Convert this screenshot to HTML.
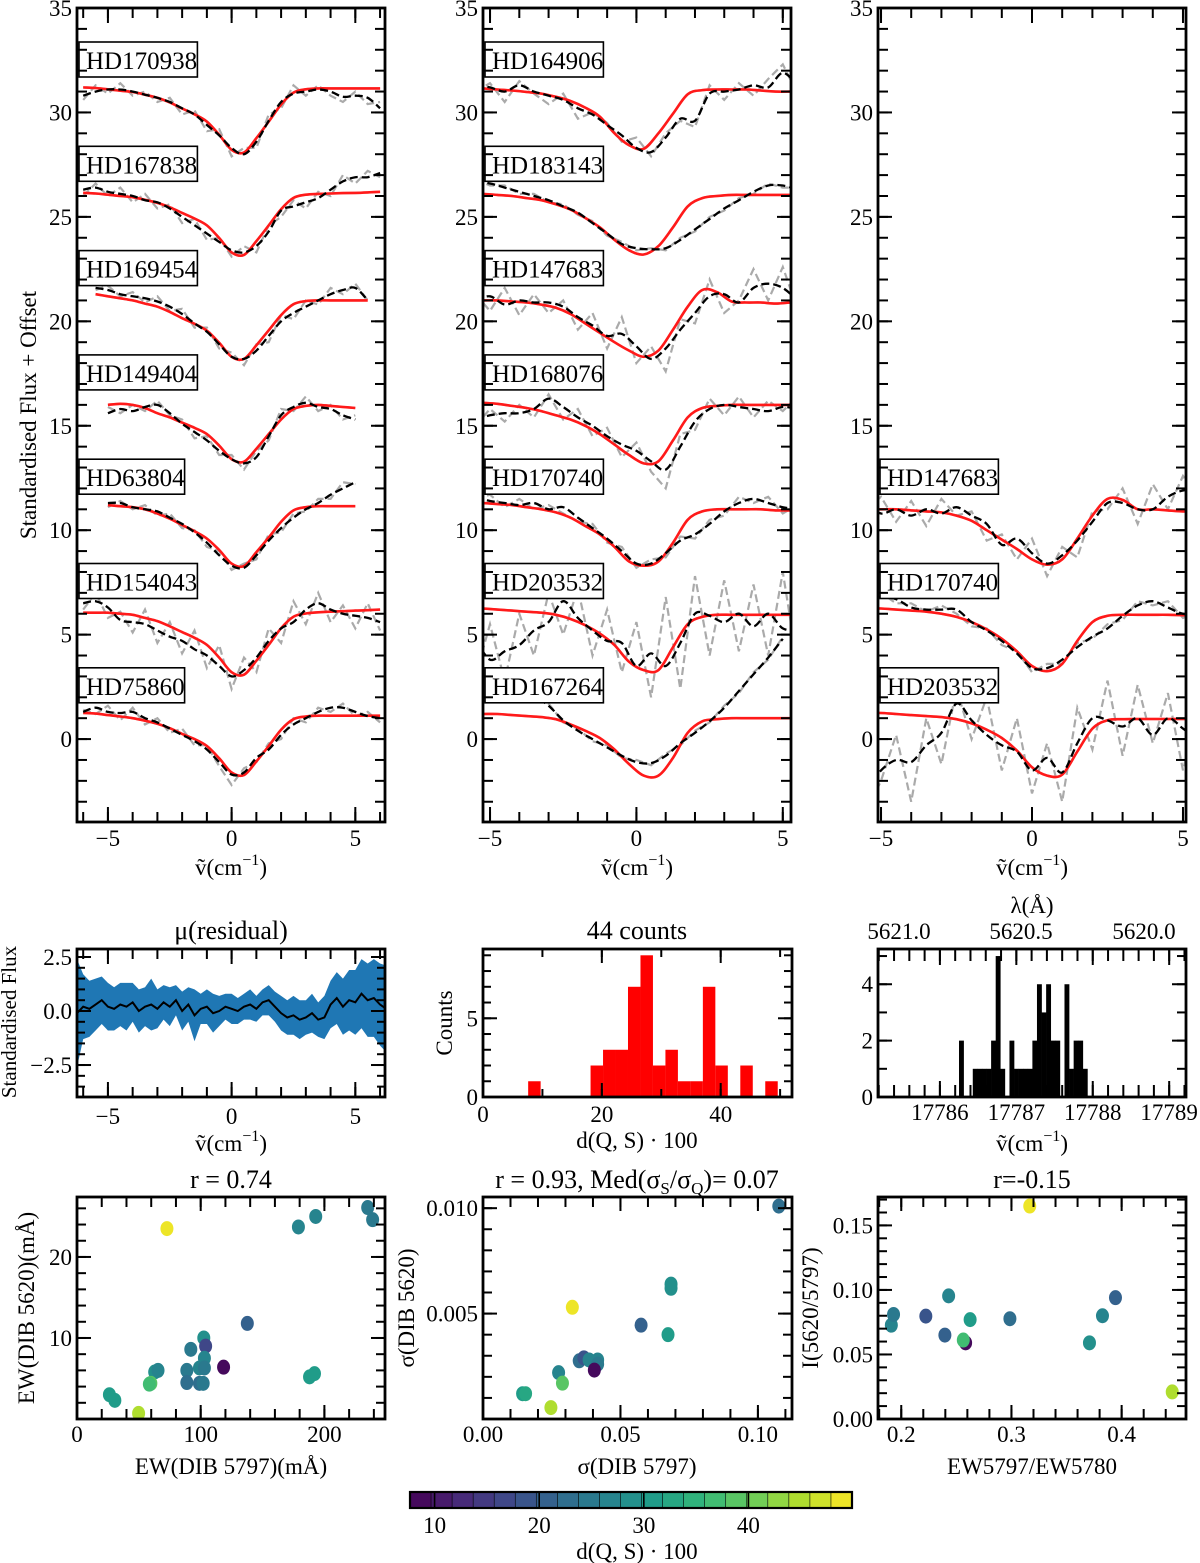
<!DOCTYPE html>
<html><head><meta charset="utf-8">
<style>
html,body{margin:0;padding:0;background:#fff;}
svg{display:block;font-family:"Liberation Serif",serif;}
</style></head>
<body>
<svg id="fig" width="1200" height="1563" viewBox="0 0 1200 1563" xmlns="http://www.w3.org/2000/svg">
<defs id="defs"></defs>
</svg>
<script>
// ===== spectra data (x grid step 0.5) =====
// left column
const red_HD170938=[31.2,31.17,31.11,31.04,30.98,30.85,30.7,30.48,30.19,29.91,29.56,28.93,28.21,28.08,28.77,29.56,30.38,30.95,31.11,31.15,31.15,31.15,31.15,31.15,31.15];
const blk_HD170938=[30.8,31.0,31.1,31.1,31.0,30.85,30.7,30.5,30.2,29.9,29.4,28.9,28.3,28.0,28.6,29.6,30.5,30.9,31.0,31.1,31.0,30.75,30.8,30.7,30.2];
const gry_HD170938=[30.6,31.3,30.9,31.4,30.8,31.0,30.5,30.7,29.9,30.1,29.1,29.2,27.9,28.3,28.3,29.9,30.2,31.3,30.8,31.3,30.8,30.5,31.0,30.4,30.5];
const red_HD167838=[26.15,26.12,26.06,26.0,25.94,25.82,25.67,25.46,25.19,24.92,24.59,23.99,23.3,23.18,23.84,24.59,25.37,25.91,26.06,26.1,26.12,26.14,26.15,26.17,26.2];
const blk_HD167838=[26.3,26.4,26.2,26.1,26.0,25.8,25.7,25.4,25.0,24.6,24.2,23.8,23.4,23.3,23.6,24.3,25.3,25.5,25.7,25.9,26.3,26.7,26.9,26.9,27.1];
const gry_HD167838=[26.0,26.6,26.0,26.4,25.7,26.1,25.4,25.6,24.7,24.9,23.9,24.0,23.1,23.6,23.3,24.6,25.0,25.8,25.4,26.2,26.0,27.0,26.6,27.2,26.9];
const red_HD169454=[21.3,21.2,21.1,21.0,20.85,20.7,20.45,20.15,19.88,19.55,18.97,18.3,18.2,18.85,19.57,20.3,20.82,20.97,21.0,21.0,21.0,21.0,21.0];
const blk_HD169454=[21.6,21.5,21.3,21.2,21.1,20.95,20.7,20.35,19.9,19.5,18.9,18.3,18.2,18.6,19.3,20.0,20.4,20.7,21.0,21.3,21.5,21.6,21.0];
const gry_HD169454=[21.5,21.7,21.2,21.4,20.9,21.2,20.5,20.6,19.7,19.7,18.7,18.5,17.9,18.9,19.0,20.3,20.1,21.0,20.8,21.6,21.3,21.8,21.0];
const red_HD149404=[16.0,16.05,16.0,15.85,15.6,15.4,15.15,14.9,14.6,14.05,13.4,13.28,13.9,14.6,15.3,15.8,15.95,16.0,15.95,15.9,15.85];
const blk_HD149404=[15.6,15.8,15.7,15.9,16.0,15.6,15.1,14.7,14.3,13.8,13.4,13.2,13.5,14.5,15.5,15.9,16.1,15.9,15.8,15.5,15.3];
const gry_HD149404=[15.9,15.6,16.0,15.7,16.2,15.5,15.3,14.4,14.5,13.6,13.6,12.9,13.8,14.3,15.8,15.7,16.4,15.7,16.0,15.3,15.5];
const red_HD63804=[11.2,11.15,11.1,11.0,10.8,10.55,10.25,9.95,9.6,9.05,8.4,8.28,8.95,9.65,10.4,10.95,11.1,11.15,11.15,11.15,11.15];
const blk_HD63804=[11.3,11.3,11.1,11.0,10.9,10.6,10.3,9.9,9.4,8.8,8.3,8.2,8.8,9.5,10.1,10.6,11.0,11.3,11.7,12.0,12.3];
const gry_HD63804=[11.1,11.4,11.0,11.2,10.7,10.8,10.1,10.0,9.2,9.0,8.1,8.4,8.6,9.8,9.9,10.8,10.9,11.5,11.5,12.3,12.2];
const red_HD154043=[6.05,6.05,6.05,6.0,5.95,5.8,5.65,5.4,5.12,4.85,4.51,3.9,3.2,3.08,3.75,4.51,5.31,5.86,6.01,6.07,6.1,6.12,6.15,6.17,6.2];
const blk_HD154043=[6.5,6.6,6.3,5.7,5.6,5.5,5.2,4.9,4.7,4.3,4.0,3.5,3.0,3.3,3.9,4.7,5.3,5.6,6.2,6.5,6.2,6.0,5.9,5.8,5.6];
const gry_HD154043=[6.2,7.0,5.8,6.1,5.1,6.2,4.6,5.6,4.1,5.2,3.4,4.5,2.4,3.9,3.2,5.3,4.6,6.6,5.5,7.0,5.6,6.4,5.3,6.5,5.2];
const red_HD75860=[1.25,1.22,1.15,1.08,1.0,0.88,0.73,0.52,0.25,0.0,-0.33,-0.92,-1.6,-1.72,-1.07,-0.33,0.45,0.95,1.08,1.12,1.12,1.12,1.12,1.12,1.12];
const blk_HD75860=[1.3,1.5,1.3,1.25,1.3,1.0,0.8,0.5,0.2,-0.1,-0.5,-1.1,-1.7,-1.6,-0.9,-0.5,0.2,0.7,1.0,1.3,1.5,1.5,1.3,1.1,1.0];
const gry_HD75860=[1.4,1.2,1.6,0.9,1.5,0.7,1.0,0.3,0.5,-0.3,-0.3,-1.3,-2.2,-1.4,-1.1,-0.2,0.0,1.0,0.8,1.5,1.3,1.7,1.1,1.3,0.8];
// middle column (x from -5.5)
const red_m_HD164906=[31.2,31.15,31.1,31.05,30.98,30.9,30.75,30.55,30.23,29.8,29.0,28.43,28.26,29.0,29.94,30.87,31.07,31.1,31.1,31.1,31.05,31.0,31.0];
const blk_m_HD164906=[31.3,31.2,31.0,31.3,31.0,30.8,30.6,30.2,29.9,29.4,28.9,28.3,28.1,28.8,29.7,29.6,30.9,31.0,31.1,31.3,31.2,31.9,31.3];
const gry_m_HD164906=[31.0,31.4,30.5,31.5,30.9,30.4,30.9,29.7,30.0,29.5,28.6,28.8,27.9,29.0,29.6,29.3,31.3,30.6,31.4,30.8,31.6,32.3,30.9];
const red_m_HD183143=[26.1,26.1,26.05,26.0,25.9,25.8,25.6,25.35,24.95,24.5,23.9,23.4,23.2,23.6,24.5,25.5,25.9,26.0,26.05,26.05,26.05,26.05,26.05];
const blk_m_HD183143=[26.7,26.6,26.4,26.2,26.0,25.8,25.5,25.2,24.7,24.2,23.7,23.5,23.45,23.5,23.9,24.4,24.9,25.4,25.8,26.2,26.5,26.5,26.3];
const gry_m_HD183143=[26.8,26.5,26.5,26.1,26.1,25.7,25.6,25.1,24.8,24.1,23.8,23.4,23.5,23.4,24.0,24.3,25.0,25.3,25.9,26.1,26.6,26.4,26.4];
const red_m_HD147683=[21.0,21.0,21.0,20.95,20.9,20.8,20.65,20.35,19.9,19.45,19.0,18.6,18.3,18.6,19.6,20.7,21.5,21.4,20.95,20.9,20.9,20.85,20.9];
const blk_m_HD147683=[21.0,21.2,20.8,21.0,20.9,20.9,20.7,20.2,19.8,19.3,19.4,18.8,18.2,18.7,19.6,20.4,21.2,21.3,20.9,21.6,21.8,21.6,21.0];
const gry_m_HD147683=[21.3,20.5,21.6,20.3,21.3,20.4,21.0,19.6,20.4,18.7,20.2,18.0,18.8,17.6,20.1,19.9,22.0,20.4,21.0,22.5,21.0,22.6,20.6];
const red_m_HD168076=[16.15,16.1,16.05,15.95,15.85,15.7,15.5,15.3,15.0,14.6,14.1,13.6,13.2,13.3,14.3,15.4,15.85,15.95,16.0,16.0,16.0,16.0,16.0];
const blk_m_HD168076=[15.3,15.5,15.6,15.6,15.8,16.3,15.9,15.4,15.0,14.5,14.1,13.8,13.3,12.9,14.0,15.2,15.8,16.0,15.9,15.8,15.7,15.9,15.8];
const gry_m_HD168076=[15.0,15.8,15.2,16.0,15.4,16.5,15.3,15.8,14.5,14.9,13.5,14.2,12.8,12.0,14.6,14.8,16.3,15.5,16.4,15.4,16.2,15.7,16.4];
const red_m_HD170740=[11.3,11.3,11.25,11.2,11.1,11.0,10.85,10.6,10.2,9.8,9.2,8.5,8.3,8.5,9.4,10.5,10.9,11.0,11.0,11.0,11.0,10.95,10.95];
const blk_m_HD170740=[11.6,11.4,11.3,11.2,11.3,11.0,11.1,10.6,10.1,9.6,9.0,8.4,8.4,8.9,9.5,9.8,10.3,10.9,11.3,11.5,11.3,11.1,11.0];
const gry_m_HD170740=[11.5,11.7,11.1,11.5,11.0,11.2,10.8,10.4,10.3,9.4,9.2,8.2,8.6,8.7,9.7,9.6,10.5,10.7,11.6,11.3,11.6,10.8,11.2];
const red_m_HD203532=[6.25,6.25,6.2,6.15,6.1,6.05,5.95,5.75,5.45,5.05,4.5,3.7,3.3,3.3,4.4,5.5,5.85,5.95,5.95,5.95,5.95,5.95,5.95];
const blk_m_HD203532=[4.8,3.8,4.2,4.5,5.2,5.6,6.6,5.8,5.2,4.7,4.6,3.5,4.1,3.5,4.6,6.0,5.9,5.6,6.0,5.4,6.0,5.3,5.2];
const gry_m_HD203532=[3.0,5.5,2.8,6.0,4.0,7.0,5.0,7.2,4.0,6.2,3.2,5.6,2.0,6.8,2.4,7.8,4.0,7.6,4.2,7.4,4.0,8.0,3.6];
const red_m_HD167264=[1.2,1.2,1.2,1.15,1.1,1.05,0.95,0.7,0.4,0.05,-0.5,-1.2,-1.75,-1.75,-0.9,0.3,0.85,0.95,1.0,1.0,1.0,1.0,1.0];
const blk_m_HD167264=[2.6,2.1,1.6,0.9,0.4,0.0,-0.4,-0.8,-1.1,-1.15,-0.8,-0.2,0.3,0.85,1.5,2.3,3.1,3.9,4.8];
const gry_m_HD167264=[2.7,2.0,1.7,0.8,0.5,-0.1,-0.3,-0.9,-1.0,-1.25,-0.7,-0.3,0.4,0.8,1.6,2.2,3.2,3.8,4.9];
// right column (x from -5.5)
const red_r_HD147683=[11.0,11.0,11.0,10.95,10.9,10.85,10.7,10.45,10.0,9.55,9.1,8.6,8.35,8.6,9.6,10.7,11.5,11.45,11.0,11.0,10.95,10.9,10.95];
const blk_r_HD147683=[11.3,10.8,11.0,10.7,11.0,10.8,11.1,10.7,10.3,9.3,9.6,8.9,8.4,8.8,9.5,10.4,11.3,11.3,11.0,11.0,11.6,11.9,11.9];
const gry_r_HD147683=[11.0,11.6,10.4,11.4,10.2,11.5,10.7,10.9,9.5,9.8,8.6,9.6,7.8,9.2,8.7,10.9,11.0,12.0,10.3,12.2,11.0,12.6,11.6];
const red_r_HD170740=[6.25,6.25,6.2,6.15,6.1,6.0,5.85,5.6,5.25,4.8,4.2,3.5,3.25,3.6,4.7,5.6,5.9,5.95,5.95,5.95,5.95,5.93,5.93];
const blk_r_HD170740=[6.9,6.8,6.7,6.3,6.2,6.2,6.2,5.6,5.2,4.7,4.1,3.4,3.4,3.8,4.4,4.9,5.3,5.9,6.4,6.6,6.3,6.0,6.0];
const gry_r_HD170740=[6.7,7.0,6.5,6.5,6.1,6.4,6.0,5.4,5.3,4.5,4.2,3.2,3.6,3.6,4.6,4.8,5.5,5.7,6.6,6.4,6.6,5.8,6.1];
const red_r_HD203532=[1.25,1.25,1.2,1.15,1.1,1.05,0.95,0.75,0.45,0.05,-0.55,-1.35,-1.75,-1.7,-0.6,0.5,0.9,0.95,0.96,0.96,0.96,0.96,0.96];
const blk_r_HD203532=[-2.5,-1.5,-1.0,-1.1,-0.3,0.3,1.7,0.9,0.2,-0.3,-0.6,-1.5,-0.9,-1.6,-0.2,1.0,0.9,0.6,1.0,0.2,1.0,0.5,0.0];
const gry_r_HD203532=[-3.5,-2.0,0.2,-3.0,1.0,-1.2,2.4,0.0,2.0,-1.5,1.0,-2.6,-0.2,-3.0,1.5,-0.5,2.8,-0.8,2.6,-0.2,2.2,-1.5,1.5];

// residual (x from -6.25 step 0.25)
const residMean=[-0.1,0.2,0.1,0.3,0.5,0.2,0.1,0.3,0.2,0.4,0.0,0.2,0.3,0.1,0.4,0.2,0.5,0.0,0.3,-0.2,0.1,0.2,-0.1,0.0,0.2,0.1,0.0,0.2,0.3,0.1,0.4,0.5,0.2,-0.1,-0.3,-0.2,-0.4,-0.3,-0.1,-0.4,-0.3,0.3,0.6,0.2,0.5,0.4,0.8,0.5,0.6,0.3,0.1];
const residStd=[2.5,1.5,1.3,1.2,1.1,1.1,1.0,1.0,1.1,0.9,1.0,0.9,1.2,0.9,0.8,0.9,0.7,0.9,0.8,1.2,0.7,0.8,0.9,0.7,0.6,0.7,0.6,0.6,0.7,0.6,0.6,0.7,0.7,0.8,0.8,0.9,0.9,0.8,0.9,0.8,1.0,1.1,1.2,1.3,1.4,1.5,1.6,1.7,1.8,1.9,2.0];
// histogram d(Q,S) (bins from 7.6, width 2.1)
const distCounts=[1,0,0,0,0,2,3,3,7,9,2,3,1,1,7,2,0,2,0,1];
// histogram wavenumber (bins from 17786.25, width 0.06)
const waveCounts=[2,0,0,1,1,1,1,2,5,1,0,2,1,1,1,1,2,4,3,4,2,2,0,4,1,2,2,1];
// scatter 1
const ew5797=[72.7,179,193,235,239,137.7,118.5,102.5,104,92,103,99,103,88.8,62.8,65.5,59.7,58.5,88.8,99,102,188,192,26.2,30.6,49.8];
const ew5620=[23.5,23.7,25,26.1,24.6,11.8,6.4,10,9,8.6,7.5,6.3,6.3,6,5.8,6,4.4,4.3,4.5,4.4,4.4,5.2,5.6,3,2.3,0.7];
const dist1=[49,26,26,24,24,20,8,28,17,24,26,27,25,24,28,26,38,36,22,23,24,31,30,31,30,44];
// scatter 2
const sig5797=[0.1076,0.0684,0.0684,0.0325,0.0575,0.0673,0.035,0.0367,0.0386,0.0417,0.0417,0.0405,0.0275,0.0289,0.0144,0.0155,0.0247];
const sig5620=[0.0101,0.0064,0.0062,0.0053,0.00445,0.004,0.00276,0.0029,0.0028,0.0028,0.0026,0.00232,0.0022,0.0017,0.0012,0.0012,0.00054];
const dist2=[23,29,28,49,20,31,22,18,26,27,25,8,26,38,31,32,44];
// scatter 3
const ratioEW=[0.3166,0.191,0.193,0.2223,0.243,0.2396,0.2584,0.2563,0.2625,0.2986,0.3708,0.3826,0.3944,0.4459];
const intRatio=[0.165,0.0727,0.081,0.0797,0.0954,0.065,0.059,0.0612,0.077,0.0777,0.059,0.080,0.094,0.021];
const dist3=[49,26,25,19,26,21,8,37,30,22,29,26,21,44];

// ===== helpers =====
const NS="http://www.w3.org/2000/svg";
const svg=document.getElementById('fig');
const defs=document.getElementById('defs');
const TF=23;
function el(tag,attrs,parent){const e=document.createElementNS(NS,tag);for(const k in attrs)e.setAttribute(k,attrs[k]);(parent||svg).appendChild(e);return e;}
function lin(d0,d1,p0,p1){return v=>p0+(v-d0)*(p1-p0)/(d1-d0);}
let clipN=0;
function makePanel(name,x0,x1,y0,y1,xd,yd){
  const p={x0,x1,y0,y1,sx:lin(xd[0],xd[1],x0,x1),sy:lin(yd[0],yd[1],y1,y0),xd,yd};
  const g=el('g',{});
  
  
  const cid='clip'+(clipN++);
  const cp=el('clipPath',{id:cid},defs);
  el('rect',{x:x0,y:y0,width:x1-x0,height:y1-y0},cp);
  p.g=g;p.plot=el('g',{'clip-path':'url(#'+cid+')'},g);
  
  
  return p;
}
function frame(p){
  const r=el('rect',{x:p.x0,y:p.y0,width:p.x1-p.x0,height:p.y1-p.y0,fill:'none',stroke:'#000','stroke-width':2.8},p.g);
  
  
}
function inX(p,v){const a=Math.min(p.xd[0],p.xd[1]),b=Math.max(p.xd[0],p.xd[1]);return v>=a-1e-9&&v<=b+1e-9;}
function inY(p,v){return v>=p.yd[0]-1e-9&&v<=p.yd[1]+1e-9;}
function xticks(p,vals,len,labels,fs,ly){
  const g=el('g',{stroke:'#000','stroke-width':2},p.g);
  vals.forEach(v=>{if(!inX(p,v))return;const x=p.sx(v);el('line',{x1:x,x2:x,y1:p.y1,y2:p.y1-len},g);el('line',{x1:x,x2:x,y1:p.y0,y2:p.y0+len},g);});
  if(labels){labels.forEach((t,i)=>{const tx=el('text',{x:p.sx(vals[i]),y:ly,'font-size':fs,'text-anchor':'middle',fill:'#000'},p.g);tx.textContent=t;
    
    });}
}
function yticks(p,vals,len,labels,fs,lx){
  const g=el('g',{stroke:'#000','stroke-width':2},p.g);
  vals.forEach(v=>{if(!inY(p,v))return;const y=p.sy(v);el('line',{x1:p.x0,x2:p.x0+len,y1:y,y2:y},g);el('line',{x1:p.x1,x2:p.x1-len,y1:y,y2:y},g);});
  if(labels){labels.forEach((t,i)=>{const tx=el('text',{x:lx,y:p.sy(vals[i])+8,'font-size':fs,'text-anchor':'end',fill:'#000'},p.g);tx.textContent=t;
    
    });}
}
function range(a,b,s){const r=[];for(let v=a;v<=b+1e-9;v+=s)r.push(+v.toFixed(6));return r;}
function text(str,x,y,fs,name,rot,anchor){
  const t=el('text',{x,y,'font-size':fs,'text-anchor':anchor||'middle',fill:'#000'});
  if(rot)t.setAttribute('transform','rotate(-90 '+x+' '+y+')');
  t.setAttribute('xml:space','preserve');
  t.textContent=str;
  
  
  return t;
}
function nuLabel(x,y,fs,name){
  const t=el('text',{x,y,'font-size':fs,'text-anchor':'middle',fill:'#000'});
  
  
  const a=el('tspan',{},t);a.textContent='ṽ(cm';
  const b=el('tspan',{dy:-10,'font-size':fs*0.7},t);b.textContent='−1';
  const c=el('tspan',{dy:10},t);c.textContent=')';
}
function smoothPath(pts){
  let d='M'+pts[0][0]+','+pts[0][1];
  for(let i=0;i<pts.length-1;i++){
    const p0=pts[i-1]||pts[i],p1=pts[i],p2=pts[i+1],p3=pts[i+2]||p2;
    const c1=[p1[0]+(p2[0]-p0[0])/6,p1[1]+(p2[1]-p0[1])/6],c2=[p2[0]-(p3[0]-p1[0])/6,p2[1]-(p3[1]-p1[1])/6];
    d+=' C'+c1[0].toFixed(1)+','+c1[1].toFixed(1)+' '+c2[0].toFixed(1)+','+c2[1].toFixed(1)+' '+p2[0].toFixed(1)+','+p2[1].toFixed(1);
  }
  return d;
}
function curve(p,xs0,vals,style,name,smooth){
  const pts=vals.map((v,i)=>[p.sx(xs0+0.5*i),p.sy(v)]);
  const d=smooth?smoothPath(pts):'M'+pts.map(q=>q[0].toFixed(1)+','+q[1].toFixed(1)).join(' L');
  const e=el('path',Object.assign({d,fill:'none'},style),p.plot);
  
  
}
const RED={stroke:'#ff1a1a','stroke-width':2.6};
const PINK={stroke:'#f7a8a8','stroke-width':2.4};
const BLK={stroke:'#000','stroke-width':2.3,'stroke-dasharray':'8,4'};
const GRY={stroke:'#aaaaaa','stroke-width':2.2,'stroke-dasharray':'8,4'};
function spectrum(p,name,idx,gx0,gry,bx0,blk,rx0,red){
  curve(p,gx0,gry,GRY,name+'-data-raw',false);
  curve(p,rx0,red,PINK,name+'-model-samples',true);
  curve(p,rx0,red,RED,name+'-model',true);
  curve(p,bx0,blk,BLK,name+'-data-smoothed',true);
  const bx=p.x0+2,by=42+idx*104.3,w=name.length*12.8+16;
  const r=el('rect',{x:bx,y:by,width:w,height:35,fill:'#fff',stroke:'#000','stroke-width':1.6},p.g);
  
  
  const t=el('text',{x:bx+7,y:by+27,'font-size':25,fill:'#000'},p.g);t.textContent=name;
  
  
}
function topAxes(p){
  frame(p);
  xticks(p,range(-6,6,1),10);
  xticks(p,[-5,0,5],15,['−5','0','5'],TF,846);
  yticks(p,range(-3,35,1),10);
  yticks(p,range(0,35,5),14,range(0,35,5).map(String),TF,p.x0-5);
  nuLabel((p.x0+p.x1)/2,875,23,'x-axis-title');
}
// viridis
const VIR=[[68,1,84],[72,40,120],[62,73,137],[49,104,142],[38,130,142],[31,158,137],[53,183,121],[109,205,89],[180,222,44],[253,231,37]];
function viridis(t){t=Math.max(0,Math.min(1,t));const s=t*(VIR.length-1),i=Math.min(Math.floor(s),VIR.length-2),f=s-i;const c=VIR[i].map((v,k)=>Math.round(v+(VIR[i+1][k]-v)*f));return 'rgb('+c.join(',')+')';}
const CMIN=7.65,CMAX=49.9,NB=21;
function cmap(v){const b=Math.min(NB-1,Math.max(0,Math.floor((v-CMIN)/(CMAX-CMIN)*NB)));return viridis((b+0.5)/NB);}

// ===== top panels =====
const P1=makePanel('spectra-panel-left',77,385,8,822,[-6.25,6.2],[-3.97,35]);
spectrum(P1,'HD170938',0,-6,gry_HD170938,-6,blk_HD170938,-6,red_HD170938);
spectrum(P1,'HD167838',1,-6,gry_HD167838,-6,blk_HD167838,-6,red_HD167838);
spectrum(P1,'HD169454',2,-5.5,gry_HD169454,-5.5,blk_HD169454,-5.5,red_HD169454);
spectrum(P1,'HD149404',3,-5,gry_HD149404,-5,blk_HD149404,-5,red_HD149404);
spectrum(P1,'HD63804',4,-5,gry_HD63804,-5,blk_HD63804,-5,red_HD63804);
spectrum(P1,'HD154043',5,-6,gry_HD154043,-6,blk_HD154043,-6,red_HD154043);
spectrum(P1,'HD75860',6,-6,gry_HD75860,-6,blk_HD75860,-6,red_HD75860);
topAxes(P1);
const P2=makePanel('spectra-panel-middle',483,791,8,822,[-5.24,5.28],[-3.97,35]);
spectrum(P2,'HD164906',0,-5.5,gry_m_HD164906,-5.5,blk_m_HD164906,-5.75,red_m_HD164906);
spectrum(P2,'HD183143',1,-5.5,gry_m_HD183143,-5.5,blk_m_HD183143,-5.75,red_m_HD183143);
spectrum(P2,'HD147683',2,-5.5,gry_m_HD147683,-5.5,blk_m_HD147683,-5.75,red_m_HD147683);
spectrum(P2,'HD168076',3,-5.5,gry_m_HD168076,-5.5,blk_m_HD168076,-5.75,red_m_HD168076);
spectrum(P2,'HD170740',4,-5.5,gry_m_HD170740,-5.5,blk_m_HD170740,-5.75,red_m_HD170740);
spectrum(P2,'HD203532',5,-5.5,gry_m_HD203532,-5.5,blk_m_HD203532,-5.75,red_m_HD203532);
spectrum(P2,'HD167264',6,-4,gry_m_HD167264,-4,blk_m_HD167264,-5.75,red_m_HD167264);
topAxes(P2);
const P3=makePanel('spectra-panel-right',878,1186,8,822,[-5.1,5.1],[-3.97,35]);
spectrum(P3,'HD147683',4,-5.5,gry_r_HD147683,-5.5,blk_r_HD147683,-5.5,red_r_HD147683);
spectrum(P3,'HD170740',5,-5.5,gry_r_HD170740,-5.5,blk_r_HD170740,-5.5,red_r_HD170740);
spectrum(P3,'HD203532',6,-5.5,gry_r_HD203532,-5.5,blk_r_HD203532,-5.5,red_r_HD203532);
topAxes(P3);
text('Standardised Flux + Offset',36,415,23,'y-axis-title',true);

// ===== residual panel =====
const R=makePanel('residual-panel',77,385,949,1097,[-6.25,6.2],[-3.98,2.87]);
(function(){
  const up=[],dn=[],mn=[];
  residMean.forEach((m,i)=>{const x=R.sx(-6.25+0.25*i);up.push([x,R.sy(m+residStd[i])]);dn.push([x,R.sy(m-residStd[i])]);mn.push([x,R.sy(m)]);});
  const band=el('path',{d:'M'+up.map(q=>q.join(',')).join(' L')+' L'+dn.reverse().map(q=>q.join(',')).join(' L')+' Z',fill:'#1f77b4'},R.plot);
  
  
  const ln=el('path',{d:'M'+mn.map(q=>q.join(',')).join(' L'),fill:'none',stroke:'#000','stroke-width':2},R.plot);
  
  
})();
frame(R);
xticks(R,range(-6,6,1),10);xticks(R,[-5,0,5],15,['−5','0','5'],TF,1124);
yticks(R,range(-3.5,2.5,0.5),8);yticks(R,[-2.5,0,2.5],14,['−2.5','0.0','2.5'],TF,72);
nuLabel(231,1151,23,'x-axis-title');
text('μ(residual)',231,939,26,'panel-title');
text('Standardised Flux',16,1022,21,'y-axis-title',true);

// ===== histogram d(Q,S) =====
const H=makePanel('distance-histogram',483,792,949,1097,[0,52],[0,9.4]);
distCounts.forEach((c,i)=>{if(!c)return;const a=7.6+2.1*i;const r=el('rect',{x:H.sx(a),y:H.sy(c),width:H.sx(a+2.1)-H.sx(a),height:H.sy(0)-H.sy(c),fill:'#ff0000'},H.plot);
  
  });
frame(H);
xticks(H,range(0,50,10),8);xticks(H,[0,20,40],14,['0','20','40'],TF,1122);
yticks(H,range(0,9,1),8);yticks(H,[0,5],14,['0','5'],TF,478);
text('d(Q, S) · 100',637,1148,23,'x-axis-title');
text('44 counts',637,939,26,'panel-title');
text('Counts',452,1023,23,'y-axis-title',true);

// ===== histogram wavenumber =====
const W=makePanel('wavenumber-histogram',878,1186,949,1097,[17785.19,17789.22],[0,5.25]);
waveCounts.forEach((c,i)=>{if(!c)return;const a=17786.25+0.06*i;const r=el('rect',{x:W.sx(a),y:W.sy(c),width:W.sx(a+0.06)-W.sx(a)+0.3,height:W.sy(0)-W.sy(c),fill:'#000'},W.plot);
  
  });
frame(W);
xticks(W,range(17785.2,17789.2,0.2),12);xticks(W,[17786,17787,17788,17789],16,['17786','17787','17788','17789'],TF,1120);
yticks(W,range(0,5,1),9);yticks(W,[0,2,4],14,['0','2','4'],TF,873);
nuLabel(1032,1151,23,'x-axis-title');
text('5621.0',899,939,23,'top-tick-label');text('5620.5',1021,939,23,'top-tick-label');text('5620.0',1144,939,23,'top-tick-label');
text('λ(Å)',1032,913,23,'top-axis-title');

// ===== scatter plots =====
function scatter(p,xs,ys,cs,name){
  xs.forEach((v,i)=>{const c=el('ellipse',{cx:p.sx(v),cy:p.sy(ys[i]),rx:6.5,ry:7.5,fill:cmap(cs[i])},p.plot);
    
    });
}
const S1=makePanel('scatter-ew',77,385,1197,1419,[0,249],[0,27.4]);
scatter(S1,ew5797,ew5620,dist1,'ew-point');
frame(S1);
xticks(S1,range(0,240,20),10);xticks(S1,[0,100,200],14,['0','100','200'],TF,1442);
yticks(S1,range(0,26,2),9);yticks(S1,[10,20],14,['10','20'],TF,72);
text('r =  0.74',231,1188,26,'panel-title');
text('EW(DIB 5797)(mÅ)',231,1474,23,'x-axis-title');
text('EW(DIB 5620)(mÅ)',34,1308,23,'y-axis-title',true);

const S2=makePanel('scatter-sigma',483,792,1197,1419,[0,0.1124],[0,0.01053]);
scatter(S2,sig5797,sig5620,dist2,'sigma-point');
frame(S2);
xticks(S2,range(0,0.11,0.01),10);xticks(S2,[0,0.05,0.1],14,['0.00','0.05','0.10'],TF,1442);
yticks(S2,range(0,0.01,0.001),9);yticks(S2,[0.005,0.01],14,['0.005','0.010'],TF,478);
(function(){const t=text('',637,1188,26,'panel-title');
 const a=el('tspan',{},t);a.textContent='r =  0.93, Med(σ';
 const b=el('tspan',{dy:6,'font-size':17},t);b.textContent='S';
 const c=el('tspan',{dy:-6},t);c.textContent='/σ';
 const d=el('tspan',{dy:6,'font-size':17},t);d.textContent='Q';
 const e=el('tspan',{dy:-6},t);e.textContent=')= 0.07';})();
text('σ(DIB 5797)',637,1474,23,'x-axis-title');
text('σ(DIB 5620)',414,1308,23,'y-axis-title',true);

const S3=makePanel('scatter-ratio',878,1186,1197,1419,[0.1789,0.4584],[0,0.172]);
scatter(S3,ratioEW,intRatio,dist3,'ratio-point');
frame(S3);
xticks(S3,range(0.18,0.46,0.02),10);xticks(S3,[0.2,0.3,0.4],14,['0.2','0.3','0.4'],TF,1442);
yticks(S3,range(0,0.17,0.01),9);yticks(S3,[0,0.05,0.1,0.15],14,['0.00','0.05','0.10','0.15'],TF,873);
text('r=-0.15',1032,1188,26,'panel-title');
text('EW5797/EW5780',1032,1474,23,'x-axis-title');
text('I(5620/5797)',818,1308,23,'y-axis-title',true);

// ===== colorbar =====
(function(){
  const g=el('g',{});
  const sx=lin(CMIN,CMAX,410,852);
  for(let b=0;b<NB;b++){const a=CMIN+(CMAX-CMIN)*b/NB,e=CMIN+(CMAX-CMIN)*(b+1)/NB;
    const r=el('rect',{x:sx(a),y:1492,width:sx(e)-sx(a)+0.4,height:16,fill:viridis((b+0.5)/NB),stroke:'#000','stroke-width':0.6},g);
    }
  el('rect',{x:410,y:1492,width:442,height:16,fill:'none',stroke:'#000','stroke-width':2.2},g);
  [10,20,30,40].forEach(v=>{el('line',{x1:sx(v),x2:sx(v),y1:1492,y2:1508,stroke:'#000','stroke-width':1.6},g);
    const t=el('text',{x:sx(v),y:1533,'font-size':TF,'text-anchor':'middle'},g);t.textContent=String(v);
    });
  text('d(Q, S) · 100',637,1559,23,'colorbar-title');
})();
</script>
</body></html>
